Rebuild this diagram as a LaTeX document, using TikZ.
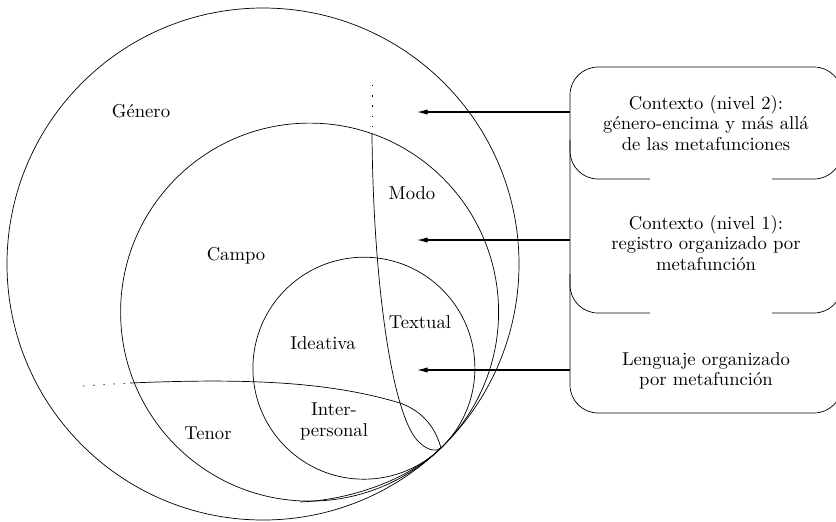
\documentclass[tikz,border=0pt]{standalone}
\usetikzlibrary{arrows.meta}

\begin{document}
\begin{tikzpicture}[x=0.2mm,y=-0.2mm,
    etiqueta/.style={font=\fontsize{10.6}{12}\selectfont},
    caja/.style={align=center,minimum width=54.4mm,inner sep=0pt,font=\fontsize{10.6}{11.6}\selectfont},
    flecha/.style={-{Latex[length=6pt,width=3pt]},semithick},
    puntos/.style={dash pattern=on 0.8pt off 5pt}]
    \useasboundingbox (0,0) rectangle (836,521);

    % circulos tangentes en T
    \coordinate (T) at (441,448);
    \draw (263,264) circle (256);
    \draw (309.6,312.1) circle (189);
    \draw (363.9,368.2) circle (111);

    % modo y tenor
    \draw[puntos] (372,85) -- (372,133);
    \draw (372,133) .. controls (373,280) and (392,420) .. (420,443)
        .. controls (430,452) and (437,451) .. (T);
    \draw[puntos] (83,386) -- (130,383);
    \draw (130,383) .. controls (250,378) and (330,382) .. (400,403)
        .. controls (425,412) and (436,430) .. (T)
        .. controls (408,480) and (350,500) .. (300,502);

    \node[etiqueta] (genero) at (141,111) {Género};
    \node[etiqueta] (campo) at (236,256) {Campo};
    \node[etiqueta] (modo) at (412,193) {Modo};
    \node[etiqueta] (textual) at (420,322) {Textual};
    \node[etiqueta] (ideativa) at (323,343) {Ideativa};
    \node[etiqueta,align=center] (interp) at (334,421) {Inter-\\personal};
    \node[etiqueta] (tenor) at (208,433) {Tenor};

    % cajas de la derecha
    \draw[rounded corners=5.6mm] (570,67) rectangle (842,413);
    \draw[rounded corners=5.6mm] (570,140) -- (570,179) -- (650,179);
    \draw[rounded corners=5.6mm] (772,179) -- (842,179) -- (842,140);
    \draw[rounded corners=5.6mm] (570,274) -- (570,313) -- (650,313);
    \draw[rounded corners=5.6mm] (772,313) -- (842,313) -- (842,274);

    \node[caja] (ctxdos) at (706,123) {Contexto (nivel 2):\\género-encima y más allá\\de las metafunciones};
    \node[caja] (ctxuno) at (706,243) {Contexto (nivel 1):\\registro organizado por\\metafunción};
    \node[caja] (lengua) at (706,371) {Lenguaje organizado\\por metafunción};

    \coordinate (pgen) at (417,112);
    \coordinate (preg) at (417,240);
    \coordinate (plen) at (417,370);
    \draw[flecha] (ctxdos.west |- pgen) -- (pgen);
    \draw[flecha] (ctxuno.west |- preg) -- (preg);
    \draw[flecha] (lengua.west |- plen) -- (plen);
\end{tikzpicture}
\end{document}
